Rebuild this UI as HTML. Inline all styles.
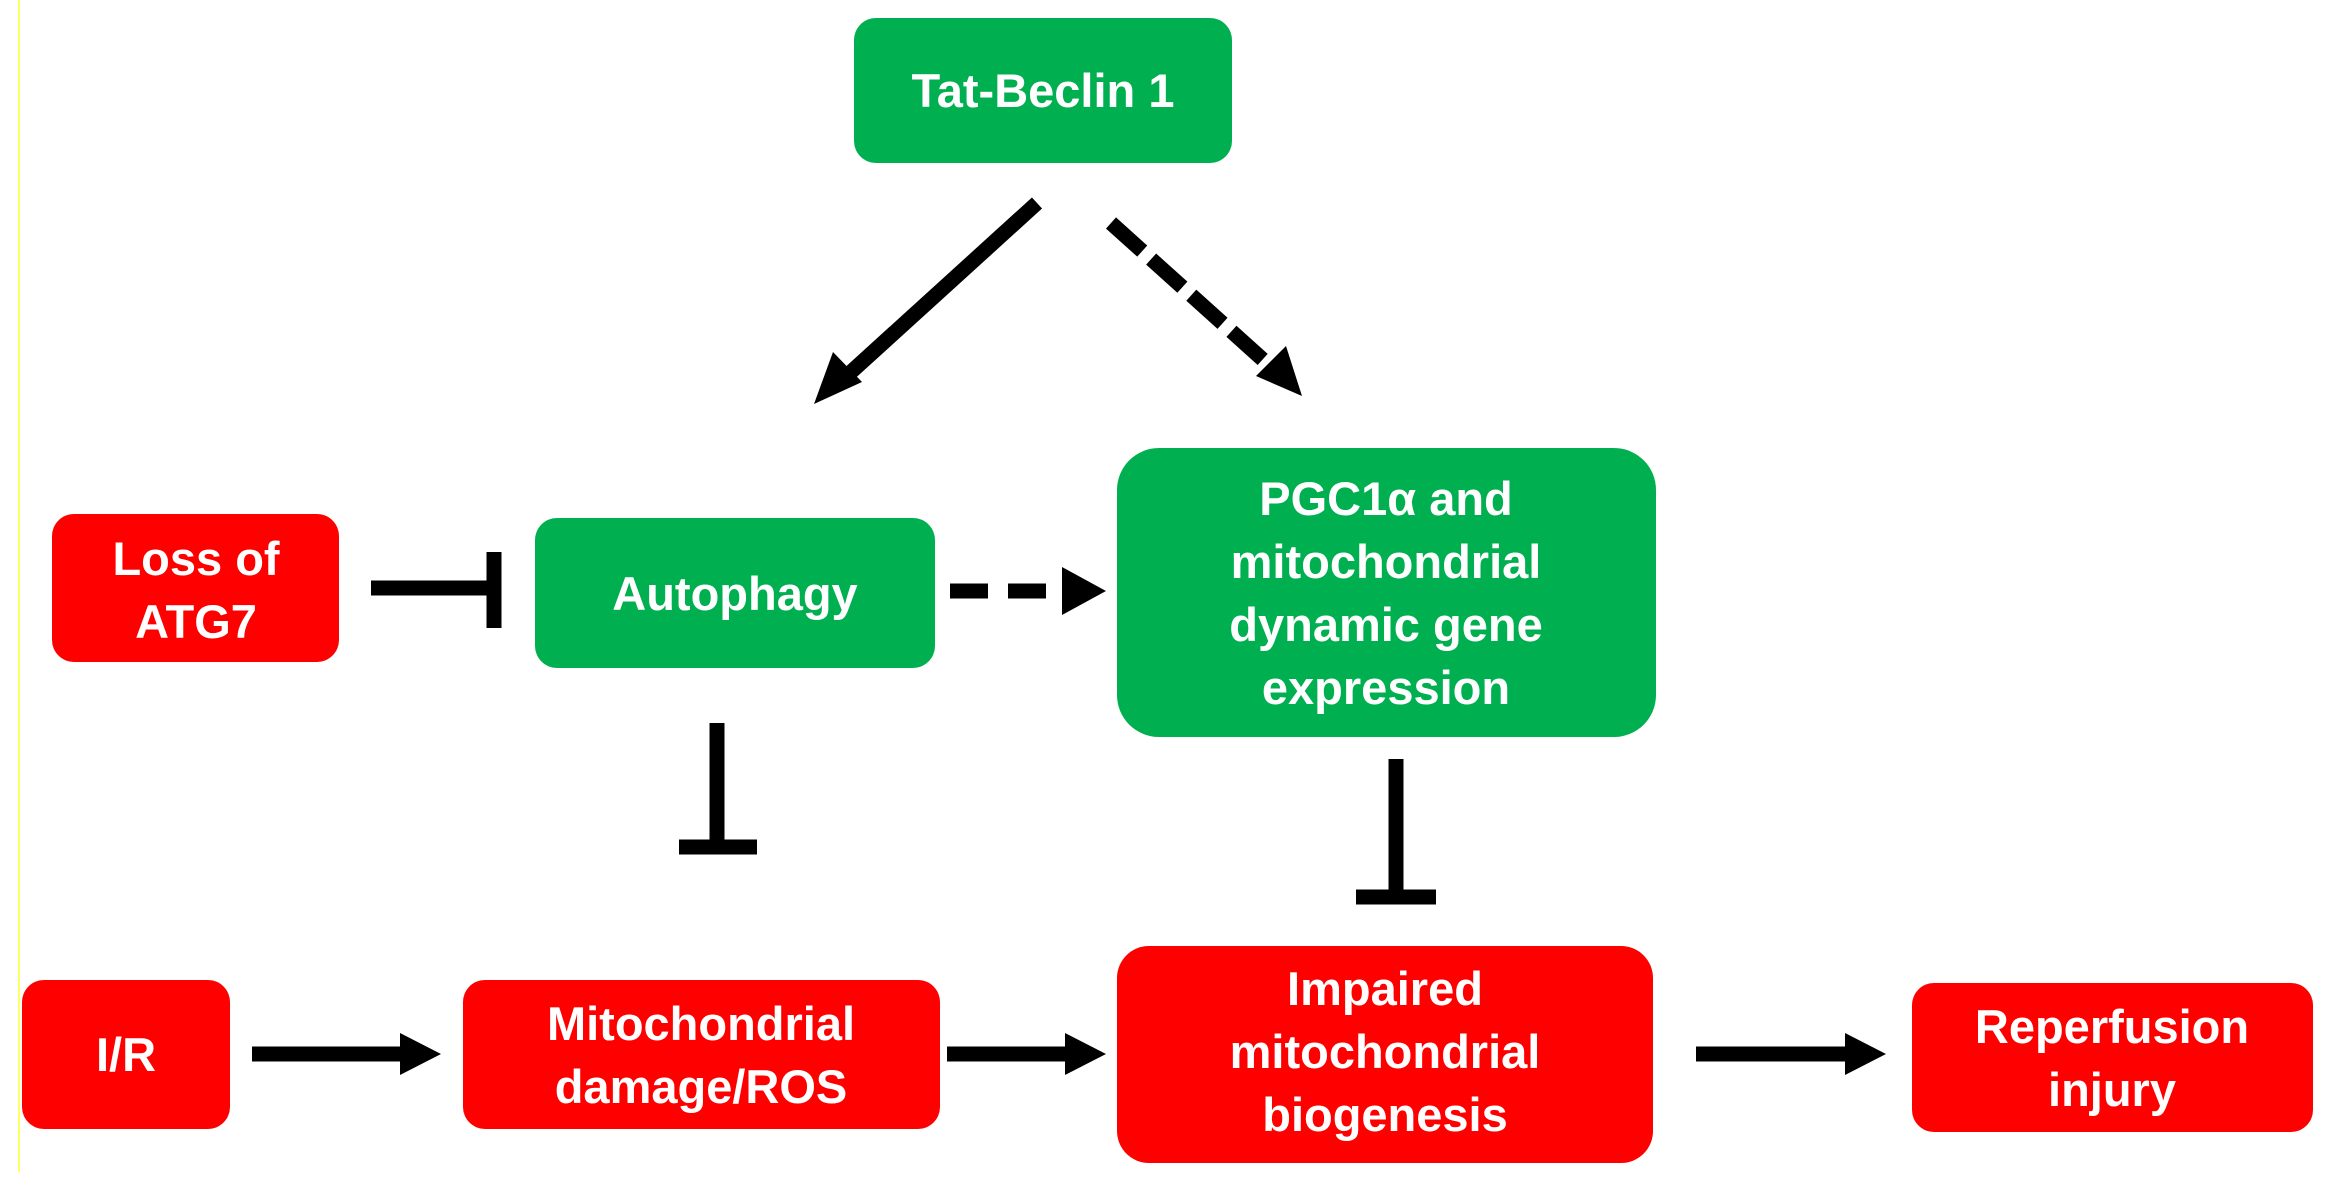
<!DOCTYPE html>
<html><head><meta charset="utf-8"><style>
html,body{margin:0;padding:0;background:#fff;}
svg{display:block;}
text{font-family:"Liberation Sans",Arial,sans-serif;font-weight:bold;fill:#fff;font-size:47px;text-anchor:middle;}
</style></head><body>
<svg width="2328" height="1177" viewBox="0 0 2328 1177" xmlns="http://www.w3.org/2000/svg">
<line x1="19" y1="0" x2="19" y2="1172" stroke="#ffff66" stroke-width="2"/>
<!-- boxes -->
<rect x="854" y="18" width="378" height="145" rx="22" fill="#00b050"/>
<text x="1043" y="107">Tat-Beclin 1</text>
<rect x="52" y="514" width="287" height="148" rx="22" fill="#ff0000"/>
<text x="196" y="575">Loss of</text><text x="196" y="638">ATG7</text>
<rect x="535" y="518" width="400" height="150" rx="22" fill="#00b050"/>
<text x="735" y="610">Autophagy</text>
<rect x="1117" y="448" width="539" height="289" rx="42" fill="#00b050"/>
<text x="1386" y="515">PGC1α  and</text>
<text x="1386" y="578">mitochondrial</text>
<text x="1386" y="641">dynamic gene</text>
<text x="1386" y="704">expression</text>
<rect x="22" y="980" width="208" height="149" rx="22" fill="#ff0000"/>
<text x="126" y="1071">I/R</text>
<rect x="463" y="980" width="477" height="149" rx="22" fill="#ff0000"/>
<text x="701" y="1040">Mitochondrial</text><text x="701" y="1103">damage/ROS</text>
<rect x="1117" y="946" width="536" height="217" rx="32" fill="#ff0000"/>
<text x="1385" y="1005">Impaired</text><text x="1385" y="1068">mitochondrial</text><text x="1385" y="1131">biogenesis</text>
<rect x="1912" y="983" width="401" height="149" rx="22" fill="#ff0000"/>
<text x="2112" y="1043">Reperfusion</text><text x="2112" y="1106">injury</text>
<!-- connectors -->
<g stroke="#000" stroke-width="15" fill="none">
<line x1="1037" y1="203" x2="840" y2="382"/>
<line x1="1111" y1="223" x2="1280" y2="375" stroke-dasharray="42,12"/>
<line x1="371" y1="588" x2="492" y2="588"/>
<line x1="494" y1="552" x2="494" y2="628"/>
<line x1="950" y1="591" x2="1065" y2="591" stroke-dasharray="38,20"/>
<line x1="717" y1="723" x2="717" y2="847"/>
<line x1="679" y1="847" x2="757" y2="847"/>
<line x1="1396" y1="759" x2="1396" y2="897"/>
<line x1="1356" y1="897" x2="1436" y2="897"/>
<line x1="252" y1="1054" x2="408" y2="1054"/>
<line x1="947" y1="1054" x2="1072" y2="1054"/>
<line x1="1696" y1="1054" x2="1852" y2="1054"/>
</g>
<g fill="#000">
<polygon points="814,404 833,352 862,382"/>
<polygon points="1302,396 1286,346 1256,376"/>
<polygon points="1106,591 1062,567 1062,615"/>
<polygon points="441,1054 400,1033 400,1075"/>
<polygon points="1106,1054 1065,1033 1065,1075"/>
<polygon points="1886,1054 1845,1033 1845,1075"/>
</g>
</svg>
</body></html>
